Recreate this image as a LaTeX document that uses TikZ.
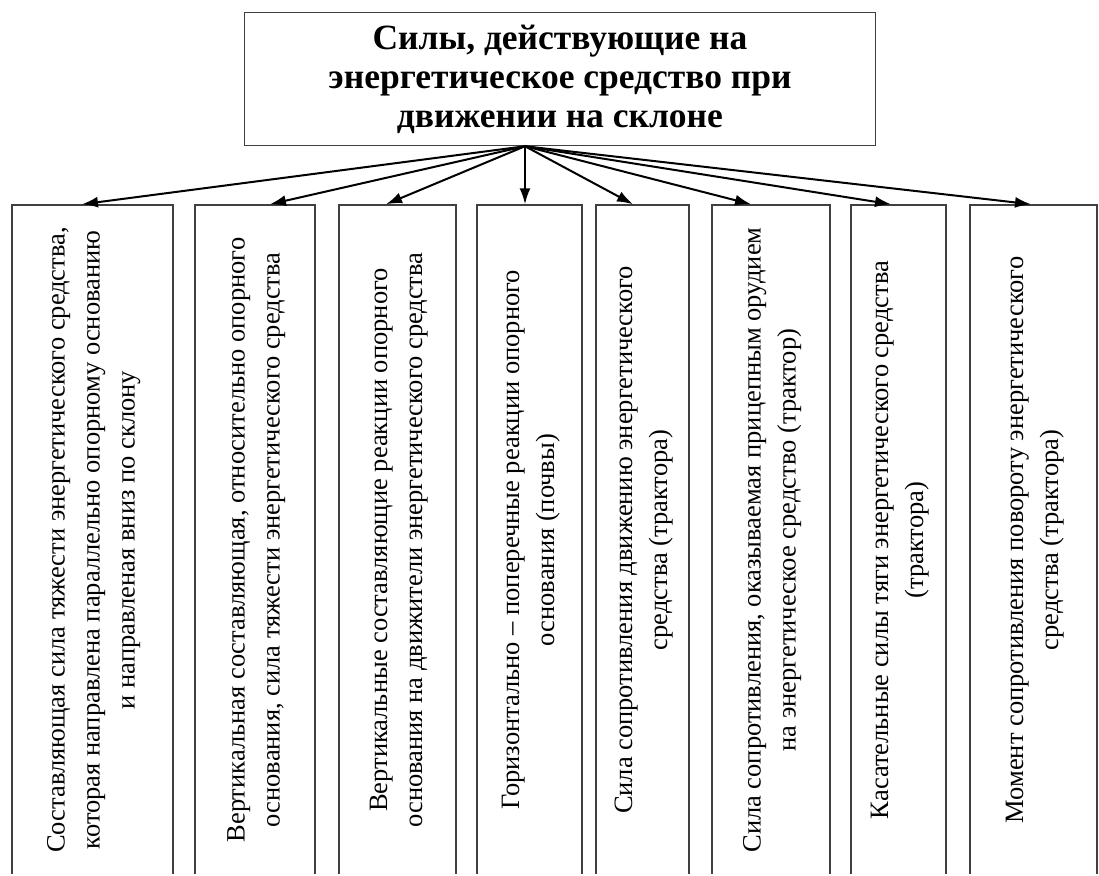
\documentclass[tikz,border=0pt]{standalone}
\usepackage{fontspec}
\usepackage{graphicx}
\setmainfont{Liberation Serif}
\usetikzlibrary{arrows.meta}
\tikzset{
  titlebox/.style={draw=black!75, line width=1.5pt, align=center, inner sep=0pt,
    font=\fontsize{35.5}{39}\selectfont\bfseries},
  forcebox/.style={draw=black!75, line width=1.5pt, minimum height=670pt, inner sep=0pt},
  force/.style={-{Latex[length=16pt,width=11pt]}, line width=2pt}
}
\newcommand{\vtext}[1]{\rotatebox{90}{\fontsize{26.5}{35}\selectfont
  \begin{tabular}{@{}c@{}}#1\end{tabular}}}
\begin{document}
\begin{tikzpicture}[x=1pt,y=-1pt]
\useasboundingbox (0,0) rectangle (1099,875);
\clip (0,0) rectangle (1099,873.5);
\node[titlebox, minimum width=631pt, minimum height=133pt] (title) at (560,79)
  {Силы, действующие на\\энергетическое средство при\\движении на склоне};
\coordinate (hub) at ([xshift=-35pt]title.south);
% boxes
\node[forcebox, minimum width=161pt] (b1) at (92.5,540) {\vtext{Составляющая сила тяжести энергетического средства,\\которая направлена параллельно опорному основанию\\и направленая вниз по склону}};
\node[forcebox, minimum width=120pt] (b2) at (255,540) {\vtext{Вертикальная составляющая, относительно опорного\\основания, сила тяжести энергетического средства}};
\node[forcebox, minimum width=117pt] (b3) at (397.5,540) {\vtext{Вертикальные составляющие реакции опорного\\основания на движители энергетического средства}};
\node[forcebox, minimum width=105pt] (b4) at (529.5,540) {\vtext{Горизонтально – поперечные реакции опорного\\основания (почвы)}};
\node[forcebox, minimum width=93pt] (b5) at (642.5,540) {\vtext{Сила сопротивления движению энергетического\\средства (трактора)}};
\node[forcebox, minimum width=118pt] (b6) at (771,540) {\vtext{Сила сопротивления, оказываемая прицепным орудием\\на энергетическое средство (трактор)}};
\node[forcebox, minimum width=95pt] (b7) at (898.5,540) {\vtext{Касательные силы тяги энергетического средства\\(трактора)}};
\node[forcebox, minimum width=127pt] (b8) at (1033.5,540) {\vtext{Момент сопротивления повороту энергетического\\средства (трактора)}};
% arrows
\draw[force] (hub) -- ([xshift=-10.5pt]b1.north);
\draw[force] (hub) -- ([xshift=15pt]b2.north);
\draw[force] (hub) -- ([xshift=-11.5pt]b3.north);
\draw[force] (hub) -- ([xshift=-4.5pt]b4.north);
\draw[force] (hub) -- ([xshift=-9.5pt]b5.north);
\draw[force] (hub) -- ([xshift=-20pt]b6.north);
\draw[force] (hub) -- ([xshift=-7.5pt]b7.north);
\draw[force] (hub) -- ([xshift=-2.5pt]b8.north);
\end{tikzpicture}
\end{document}
